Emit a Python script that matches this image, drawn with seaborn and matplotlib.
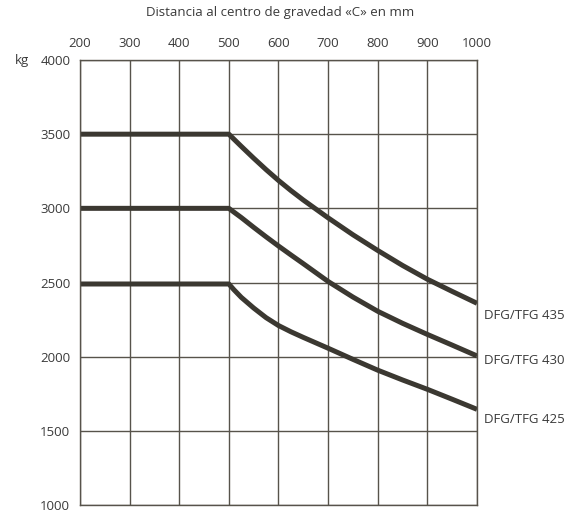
import pandas as pd
import numpy as np
import matplotlib.pyplot as plt
import seaborn as sns

sns.set_style("white")
plt.rcParams['font.family'] = ['Open Sans', 'DejaVu Sans']

# data
distance = [200, 300, 400, 500, 510, 525, 550, 575, 600, 625, 650, 700, 750, 800, 850, 900, 950, 1000]
load_435 = [3500, 3500, 3500, 3500, 3467, 3418, 3338, 3261, 3188, 3120, 3056, 2936, 2822, 2716, 2615, 2522, 2440, 2360]
load_430 = [3000, 3000, 3000, 3000, 2975, 2938, 2872, 2808, 2746, 2686, 2627, 2507, 2402, 2306, 2225, 2150, 2078, 2005]
load_425 = [2490, 2490, 2490, 2490, 2452, 2400, 2328, 2263, 2210, 2168, 2130, 2057, 1982, 1909, 1843, 1780, 1713, 1645]
models = ["DFG/TFG 435", "DFG/TFG 430", "DFG/TFG 425"]
label_shift = [-9, -3, -7]

x_ticks = [200, 300, 400, 500, 600, 700, 800, 900, 1000]
y_ticks = [1000, 1500, 2000, 2500, 3000, 3500, 4000]

df = pd.DataFrame({
    "Distance": distance * 3,
    "Load": load_435 + load_430 + load_425,
    "Model": [models[0]] * len(distance) + [models[1]] * len(distance) + [models[2]] * len(distance),
})

line_color = "#3b3831"
grid_color = "#57534b"
text_color = "#3a3a3a"

fig = plt.figure(figsize=(5.77, 5.16), dpi=100)
ax = fig.add_axes([0.1386, 0.0213, 0.8267 - 0.1386, 0.8837 - 0.0213])

sns.lineplot(data=df, x="Distance", y="Load", hue="Model",
             palette=[line_color] * 3, linewidth=3.6, legend=False, ax=ax,
             solid_capstyle="butt", solid_joinstyle="round")

ax.set_xlim(200, 1000)
ax.set_ylim(1000, 4000)
ax.set_xticks(x_ticks)
ax.set_yticks(y_ticks)
ax.xaxis.tick_top()
ax.tick_params(axis="both", length=0, labelsize=9.5, colors=text_color, pad=7)
ax.grid(True, color=grid_color, linewidth=1.0)
for side in ax.spines.values():
    side.set_color(grid_color)
    side.set_linewidth(1.0)
ax.set_xlabel("")
ax.set_ylabel("")

# curve labels at the right end
ends = [load_435[-1], load_430[-1], load_425[-1]]
for name, y_end, dy in zip(models, ends, label_shift):
    ax.annotate(name, xy=(1000, y_end), xytext=(5, dy), textcoords="offset points",
                ha="left", va="center", fontsize=9.5, color=text_color,
                annotation_clip=False)

fig.text(0.025, 0.8837, "kg", ha="left", va="center", fontsize=9.5, color=text_color)
fig.text(0.485, 0.975, "Distancia al centro de gravedad «C» en mm",
         ha="center", va="center", fontsize=9.5, color=text_color)

fig.savefig("out.png", dpi=100)
